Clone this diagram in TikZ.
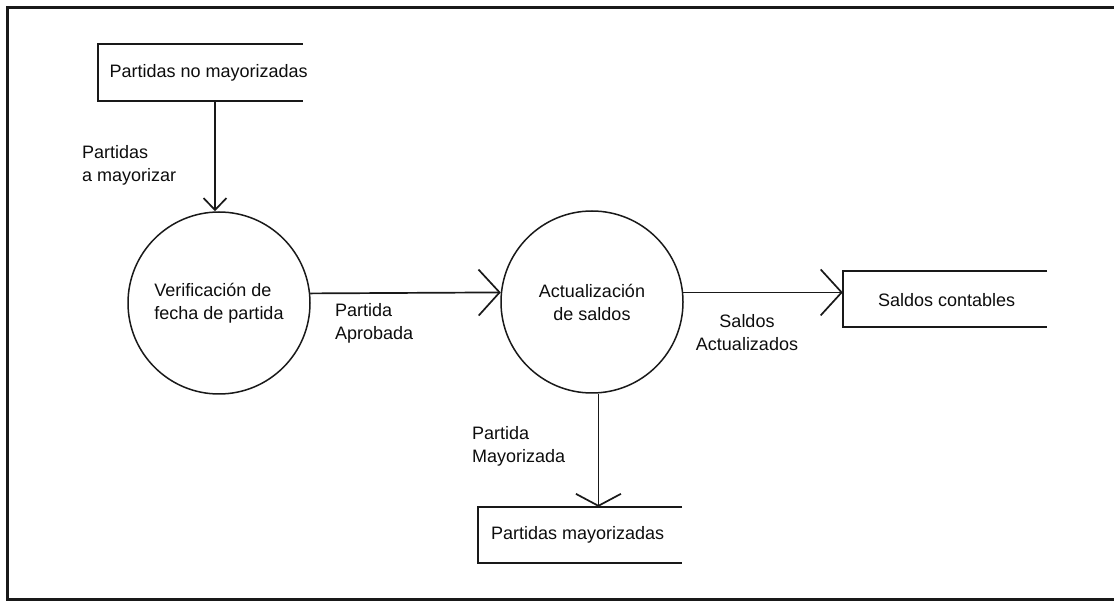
\documentclass[tikz,border=0pt]{standalone}
\usepackage{fontspec}
\setmainfont{Liberation Sans}
\usetikzlibrary{arrows.meta}
\begin{document}
\begin{tikzpicture}[x=1pt,y=-1pt,
  every node/.style={font=\fontsize{18}{23}\selectfont, text=black!95},
  proc/.style={circle, draw=black!90, line width=1.5pt, minimum size=182pt, inner sep=0pt},
  store/.style={minimum width=204pt, minimum height=56pt, inner sep=0pt},
  storeside/.style={draw=black!90, line width=1.9pt},
  lbl/.style={inner sep=0pt, align=left},
  flow/.style={draw=black!90, line width=1.7pt},
  tipbig/.style={-{Straight Barb[length=21pt,width=46pt,line width=1.7pt]}},
  tipsmall/.style={-{Straight Barb[length=12pt,width=23pt,line width=1.7pt]}},
  tipflat/.style={-{Straight Barb[length=12pt,width=45pt,line width=1.7pt]}}]
\useasboundingbox (0,0) rectangle (1114,601);
% outer frame
\draw[draw=black!90, line width=3pt] (1114,8) -- (7,8) -- (7,599) -- (1114,599);
% data stores
\node[store] (s1) at (200.5,72.5) {};
\node[lbl, anchor=west] (s1t) at ([xshift=11pt]s1.west) {Partidas no mayorizadas};
\draw[storeside] (s1.north east) -- (s1.north west) -- (s1.south west) -- (s1.south east);
\node[store] (s2) at (945,299) {};
\node[lbl, anchor=west] (s2t) at ([xshift=35pt,yshift=-1pt]s2.west) {Saldos contables};
\draw[storeside] (s2.north east) -- (s2.north west) -- (s2.south west) -- (s2.south east);
\node[store] (s3) at (580,535) {};
\node[lbl, anchor=west] (s3t) at ([xshift=13pt]s3.west) {Partidas mayorizadas};
\draw[storeside] (s3.north east) -- (s3.north west) -- (s3.south west) -- (s3.south east);
% processes
\node[proc, align=left] (c1) at (219,303) {Verificación de\\fecha de partida};
\node[proc, align=center] (c2) at (592,302) {Actualización\\de saldos};
% flows
\coordinate (c1top) at ([xshift=-4pt]c1.north);
\draw[flow, tipsmall] (s1.south -| c1top) -- (c1top);
\draw[flow, tipbig] (c1.6.3) -- (c2.174.3);
\draw[flow, tipbig] (c2.6.4) -- (c2.6.4 -| s2.west);
\draw[flow, tipflat] (c2.-86.8) -- (c2.-86.8 |- s3.north);
% labels
\node[lbl, anchor=west] (l1) at (82,165.5) {Partidas\\a mayorizar};
\node[lbl, anchor=west] (l2) at (335,323) {Partida\\Aprobada};
\node[lbl, align=center] (l3) at (747,333) {Saldos\\Actualizados};
\node[lbl, anchor=west] (l4) at (472,446.5) {Partida\\Mayorizada};
\end{tikzpicture}
\end{document}
